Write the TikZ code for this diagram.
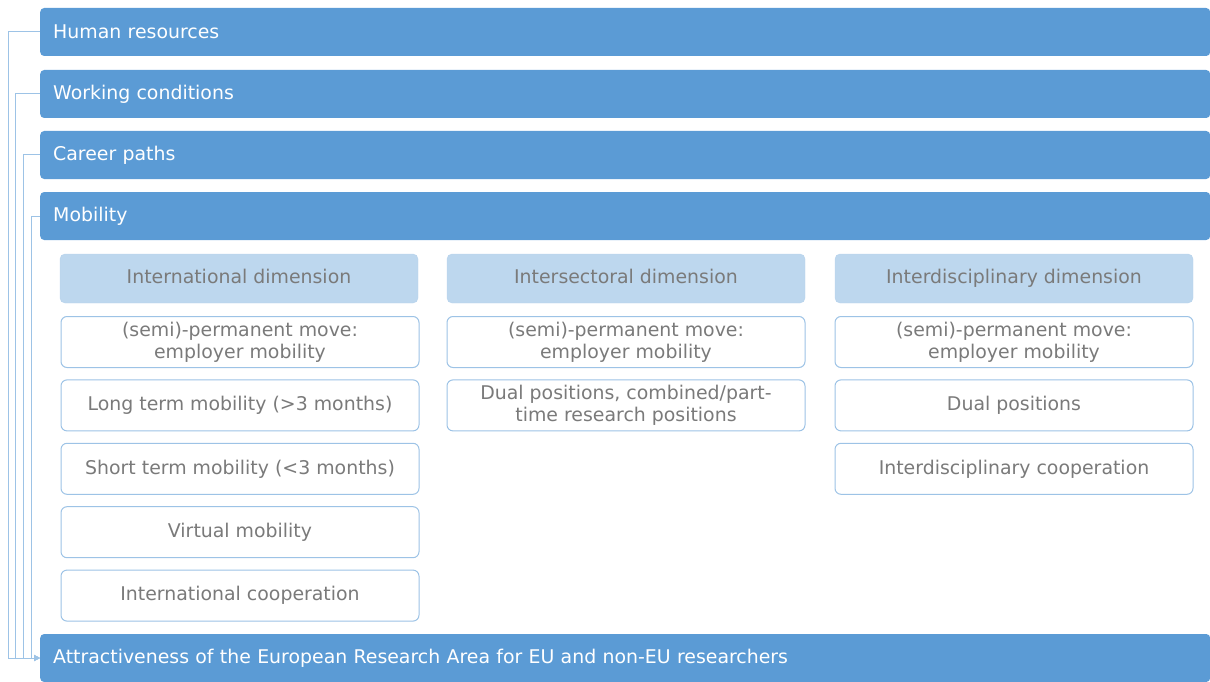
\documentclass[tikz,border=0pt]{standalone}
\usepackage{fontspec}
\setmainfont{DejaVu Sans}
\usetikzlibrary{arrows.meta}
\definecolor{barblue}{HTML}{5B9BD5}
\definecolor{headblue}{HTML}{BDD7EE}
\definecolor{lineblue}{HTML}{9DC3E6}
\definecolor{textgrey}{HTML}{7A7A7A}
\tikzset{
    txt/.style = {font = \fontsize{18.9}{22}\selectfont},
    bar/.style = {txt, fill = barblue, text = white, rounded corners = 4pt, anchor = west,
        minimum width = 1170pt, minimum height = 48pt, text width = 1144pt, inner xsep = 13pt, align = left},
    dimhead/.style = {txt, fill = headblue, draw = headblue!80!lineblue, text = textgrey, rounded corners = 5pt,
        minimum width = 358pt, minimum height = 49pt, align = center, text height = 13.5pt, text depth = 3.5pt},
    item/.style = {txt, fill = white, draw = lineblue, line width = 1pt, text = textgrey, rounded corners = 6pt,
        minimum width = 358pt, minimum height = 51pt, align = center, inner sep = 2pt},
    link/.style = {draw = lineblue, line width = 1pt, -{Triangle[length = 6pt, width = 6pt]}}
}
\begin{document}
\begin{tikzpicture}[x = 1pt, y = -1pt]
        \useasboundingbox (0, 0) rectangle (1210, 682);
        % topic bars
        \foreach \n/\y/\lab in {hr/32/Human resources, wc/94/Working conditions, cp/155/Career paths, mob/216/Mobility}{
            \node[bar] (\n) at (40, \y) {\lab};
        }
        \node[bar] (attr) at (40, 658) {Attractiveness of the European Research Area for EU and non-EU researchers};
        % dimensions
        \foreach \n/\x/\lab in {int/239/International dimension, sec/626/Intersectoral dimension, dis/1014/Interdisciplinary dimension}{
            \node[dimhead] (\n) at (\x, 278.5) {\lab};
        }
        \foreach \lab [count = \i] in {{(semi)-permanent move:\\employer mobility}, {Long term mobility (>3 months)},
            {Short term mobility (<3 months)}, {Virtual mobility}, {International cooperation}}{
            \node[item] (int\i) at (240, {342 + 63.4*(\i - 1)}) {\lab};
        }
        \foreach \lab [count = \i] in {{(semi)-permanent move:\\employer mobility}, {Dual positions, combined/part-\\time research positions}}{
            \node[item] (sec\i) at (626, {342 + 63.4*(\i - 1)}) {\lab};
        }
        \foreach \lab [count = \i] in {{(semi)-permanent move:\\employer mobility}, {Dual positions}, {Interdisciplinary cooperation}}{
            \node[item] (dis\i) at (1014, {342 + 63.4*(\i - 1)}) {\lab};
        }
        % links to the bottom bar
        \foreach \n/\d in {hr/32, wc/25, cp/17, mob/9}{
            \draw[link] (\n.west) -- ++(-\d, 0) |- (attr.west);
        }
    \end{tikzpicture}
\end{document}
